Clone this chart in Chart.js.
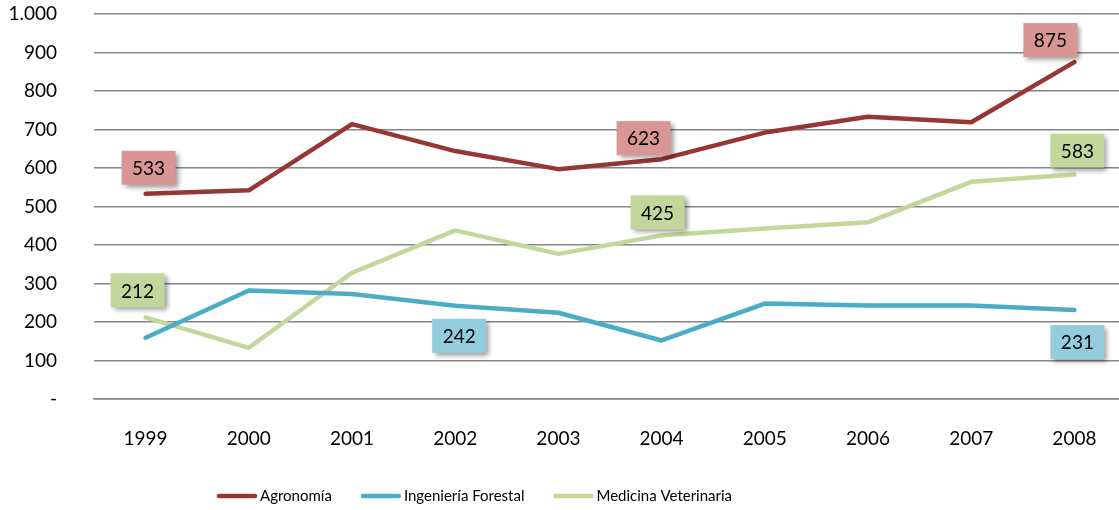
<!DOCTYPE html>
<html>
<head>
<meta charset="utf-8">
<script src="https://cdn.jsdelivr.net/npm/chart.js@4"></script>
<style>
  html, body { margin: 0; padding: 0; background: #fff; overflow: hidden; }
  #wrap { width: 1126px; height: 510px; }
</style>
</head>
<body>
<div id="wrap"><canvas id="chart" width="1126" height="510"></canvas></div>
<script>
const years = ["1999", "2000", "2001", "2002", "2003", "2004", "2005", "2006", "2007", "2008"];
const agronomia = [533, 542, 714, 644, 597, 623, 692, 733, 719, 875];
const forestal = [159, 282, 273, 242, 224, 152, 248, 243, 243, 231];
const veterinaria = [212, 133, 328, 438, 377, 425, 443, 459, 564, 583];
const yTicks = [0, 100, 200, 300, 400, 500, 600, 700, 800, 900, 1000];

// which points get a value box: [dataset, index, dx, dy]
const boxes = [
    [0, 0, 3, -26], [0, 5, -18, -21], [0, 9, -24, -22],
    [2, 0, -8, -27], [2, 5, -4, -23], [2, 9, 3, -24],
    [1, 3, 4, 30], [1, 9, 3, 32]
];
const boxColors = ["#D99694", "#93CDDD", "#C3D69B"];

const FONT = "Lato, 'Open Sans', sans-serif";

const valueBoxes = {
    id: "valueBoxes",
    afterDatasetsDraw(chart) {
        const ctx = chart.ctx;
        ctx.save();
        ctx.font = "19px " + FONT;
        ctx.textAlign = "center";
        ctx.textBaseline = "middle";
        boxes.forEach(([ds, i, dx, dy]) => {
            const pt = chart.getDatasetMeta(ds).data[i];
            const v = chart.data.datasets[ds].data[i];
            const cx = pt.x + dx, cy = pt.y + dy;
            const w = 54, h = 34;
            ctx.save();
            ctx.shadowColor = "rgba(0,0,0,0.4)";
            ctx.shadowBlur = 5;
            ctx.shadowOffsetX = 3;
            ctx.shadowOffsetY = 3;
            ctx.fillStyle = boxColors[ds];
            ctx.fillRect(cx - w / 2, cy - h / 2, w, h);
            ctx.restore();
            ctx.fillStyle = "#000";
            ctx.fillText(String(v), cx, cy + 1);
        });
        ctx.restore();
    }
};

// legend drawn by hand so it can sit left of centre like the original
const lineLegend = {
    id: "lineLegend",
    afterDraw(chart) {
        const ctx = chart.ctx;
        ctx.save();
        ctx.font = "15px " + FONT;
        ctx.textBaseline = "middle";
        ctx.fillStyle = "#000";
        let x = 217;
        const y = 496;
        chart.data.datasets.forEach(ds => {
            ctx.strokeStyle = ds.borderColor;
            ctx.lineWidth = 4.5;
            ctx.lineCap = "round";
            ctx.beginPath();
            ctx.moveTo(x + 2, y);
            ctx.lineTo(x + 38, y);
            ctx.stroke();
            ctx.fillText(ds.label, x + 43, y);
            x += 43 + ctx.measureText(ds.label).width + 29;
        });
        ctx.restore();
    }
};

const ctx = document.getElementById("chart").getContext("2d");
new Chart(ctx, {
    type: "line",
    data: {
        labels: years,
        datasets: [
            { label: "Agronomía", data: agronomia, borderColor: "#953735", backgroundColor: "#953735" },
            { label: "Ingeniería Forestal", data: forestal, borderColor: "#4BACC6", backgroundColor: "#4BACC6" },
            { label: "Medicina Veterinaria", data: veterinaria, borderColor: "#C3D69B", backgroundColor: "#C3D69B" }
        ].map(d => Object.assign(d, {
            borderWidth: 4.5,
            pointRadius: 0,
            tension: 0,
            borderCapStyle: "round",
            borderJoinStyle: "round"
        }))
    },
    options: {
        responsive: false,
        animation: false,
        layout: { padding: { left: 8, top: 0, right: 0, bottom: 0 } },
        plugins: {
            legend: { display: false },
            tooltip: { enabled: false }
        },
        scales: {
            x: {
                offset: true,
                grid: { display: false },
                border: { display: true, color: "#868686", width: 1.5 },
                ticks: { color: "#000", font: { family: FONT, size: 19 }, padding: 20, maxRotation: 0 },
                afterFit: s => { s.height = 111; }
            },
            y: {
                min: 0,
                max: 1000,
                afterBuildTicks: axis => { axis.ticks = yTicks.map(v => ({ value: v })); },
                grid: { color: "#868686", lineWidth: 1.5, drawTicks: false },
                border: { display: false },
                ticks: {
                    color: "#000",
                    font: { family: FONT, size: 19 },
                    padding: 37,
                    callback: v => v === 0 ? "-" : v.toLocaleString("de-DE")
                },
                afterFit: s => { s.width = 86; s.paddingTop = 14; s.paddingBottom = 0; }
            }
        }
    },
    plugins: [valueBoxes, lineLegend]
});
</script>
</body>
</html>
